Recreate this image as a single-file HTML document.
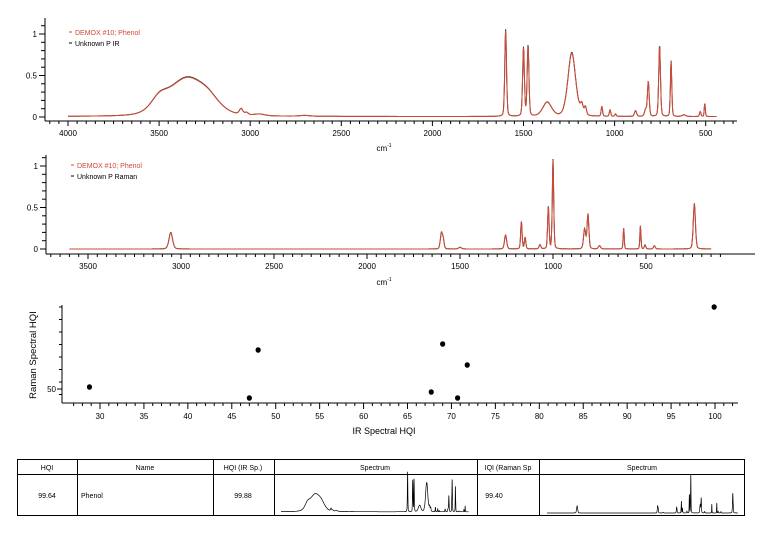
<!DOCTYPE html>
<html><head><meta charset="utf-8"><style>
body{margin:0;background:#fff;width:764px;height:548px;overflow:hidden}
svg{display:block;font-family:"Liberation Sans",sans-serif}
</style></head><body>
<svg id="s" width="764" height="548" viewBox="0 0 764 548"></svg>
<script>
const S=document.getElementById('s');let h='';
function L(x1,y1,x2,y2,c,w){h+=`<line x1="${x1}" y1="${y1}" x2="${x2}" y2="${y2}" stroke="${c||'#000'}" stroke-width="${w||1}"/>`}
function T(x,y,t,sz,a,c,extra){h+=`<text x="${x}" y="${y}" font-size="${sz}" text-anchor="${a||'middle'}" fill="${c||'#000'}" ${extra||''}>${t}</text>`}
function spec(peaks,w){let s=0;for(const p of peaks){const d=(w-p[0])/p[2];s+=p[1]/(1+d*d)*0.3+p[1]*Math.exp(-d*d/2)*0.7}return s}
function path(peaks,w0,w1,fx,fy,base,c,sw,sc){let d='';for(let w=w0;w>=w1;w-=2){const a=(spec(peaks,w)+base)*(sc||1);d+=(d?'L':'M')+fx(w).toFixed(1)+','+fy(a).toFixed(1)}h+=`<path d="${d}" fill="none" stroke="${c}" stroke-width="${sw}"/>`}
const IR=[[3350,0.46,110],[3500,0.12,45],[3230,0.1,60],[3050,0.07,10],[3020,0.03,10],[2950,0.02,30],[2700,0.01,30],[1598,1.05,5],[1500,0.83,5],[1475,0.86,5],[1370,0.17,25],[1235,0.77,22],[1180,0.12,8],[1160,0.1,6],[1070,0.12,4],[1025,0.08,4],[995,0.03,4],[885,0.07,6],[830,0.08,6],[815,0.42,5],[753,0.86,5],[690,0.67,4],[620,0.02,10],[530,0.06,4],[505,0.16,3]];
const RA=[[3055,0.2,10],[1600,0.19,6],[1590,0.1,5],[1500,0.02,8],[1255,0.17,6],[1170,0.33,4],[1150,0.14,4],[1070,0.05,5],[1025,0.52,4],[1000,1.08,4],[830,0.24,6],[812,0.42,5],[750,0.04,6],[620,0.25,3],[530,0.28,3],[505,0.05,4],[455,0.04,5],[240,0.55,6]];
const RED='#cf4a36';
// chart 1
{const fx=w=>68+(4000-w)*0.1822,fy=a=>117-a*83;
L(45,18,45,121);L(45,121,737,121);
for(let v=0;v<=1.15;v+=0.1){L(41,fy(v),45,fy(v))}
[[1,'1'],[0.5,'0.5'],[0,'0']].forEach(([v,t])=>{L(39,fy(v),45,fy(v));T(37,fy(v)+3,t,8,'end')});
for(let w=4100;w>=350;w-=50){const x=fx(w);L(x,121,x,w%500==0?126:124)}
[4000,3500,3000,2500,2000,1500,1000,500].forEach(w=>T(fx(w),136,w,8));
T(384,151,'cm<tspan dy="-4" font-size="5">-1</tspan>',8);
path(IR,4000,440,fx,fy,0.005,'#333',1);path(IR,4000,440,fx,fy,0.005,RED,1,0.985);
L(69,32,72,32,RED);T(75,35,'DEMOX #10; Phenol',7,'start',RED);
L(69,43,72,43);T(75,46,'Unknown P IR',7,'start');}
// chart 2
{const fx=w=>88+(3500-w)*0.186,fy=a=>249-a*83;
L(46,155,46,254);L(46,254,755,254);
for(let v=0;v<=1.15;v+=0.1){L(42,fy(v),46,fy(v))}
[[1,'1'],[0.5,'0.5'],[0,'0']].forEach(([v,t])=>{L(40,fy(v),46,fy(v));T(38,fy(v)+3,t,8,'end')});
for(let w=3700;w>=100;w-=50){const x=fx(w);L(x,254,x,w%500==0?259:257)}
[3500,3000,2500,2000,1500,1000,500].forEach(w=>T(fx(w),269,w,8));
T(384,285,'cm<tspan dy="-4" font-size="5">-1</tspan>',8);
path(RA,3600,150,fx,fy,0,'#333',1);path(RA,3600,150,fx,fy,0,RED,1,0.985);
L(71,165,74,165,RED);T(77,168,'DEMOX #10; Phenol',7,'start',RED);
L(71,176,74,176);T(77,179,'Unknown P Raman',7,'start');}
// scatter
{const fx=v=>100+(v-30)*8.786;
L(62,305,62,403);L(62,403,738,403);
for(let y=307;y<=400;y+=12.5)L(59,y,62,y);L(57,389,62,389);T(56,392,'50',8,'end');
for(let v=27;v<=102;v++){const x=fx(v);if(x<62)continue;L(x,403,x,v%5==0?409:406)}
for(let v=30;v<=100;v+=5)T(fx(v),419,v,8);
T(384,434,'IR Spectral HQI',9);
T(36,355,'Raman Spectral HQI',9.5,'middle','#000','transform="rotate(-90 36 355)"');
[[28.8,387],[47,398],[48,350],[67.7,392],[69,344],[70.7,398],[71.8,365],[99.9,307]].forEach(([v,y])=>h+=`<ellipse cx="${fx(v)}" cy="${y}" rx="2.6" ry="2.8" fill="#000"/>`);}
// table
{h+=`<rect x="17.5" y="459.5" width="727" height="56" fill="none" stroke="#000"/>`;L(17,474.5,745,474.5);
[77,213,274,477,539].forEach(x=>L(x+.5,459,x+.5,516));
T(47,470,'HQI',7);T(145,470,'Name',7);T(243,470,'HQI (IR Sp.)',7);T(375,470,'Spectrum',7);T(508,470,'IQI (Raman Sp',7);T(642,470,'Spectrum',7);
T(47,498,'99.64',7);T(81,498,'Phenol',7,'start');T(243,498,'99.88',7);T(494,498,'99.40',7);
path(IR,4000,440,w=>281+(4000-w)*0.0527,a=>512-a*38,0.005,'#000',0.7);
path(RA,3600,150,w=>547+(3600-w)*0.0553,a=>513-a*36,0,'#000',0.7);}
S.innerHTML=h;
</script>
</body></html>
